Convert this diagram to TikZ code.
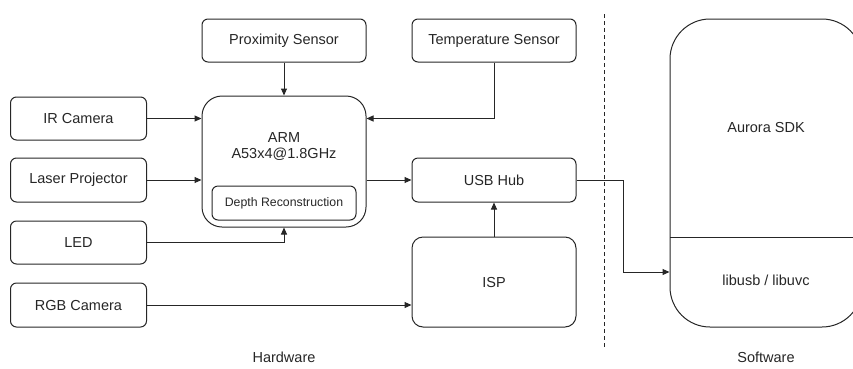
\documentclass[tikz,border=0pt]{standalone}
\usepackage{fontspec}
\setmainfont{Liberation Sans}
\usetikzlibrary{arrows.meta,calc}
\begin{document}
\begin{tikzpicture}[x=1pt,y=-1pt,
  every node/.style={font=\fontsize{14.5}{17}\selectfont, text=black!85},
  box/.style={draw=black!85, line width=1pt, rounded corners=6pt, inner sep=0pt},
  conn/.style={draw=black!85, line width=1pt},
  arr/.style={conn, -{Triangle[length=7pt,width=6pt]}}]
\useasboundingbox (0,0) rectangle (853,368);
% hardware boxes
\node[box, minimum width=164pt, minimum height=43pt] (prox) at (284,40.5) {Proximity Sensor};
\node[box, minimum width=164pt, minimum height=43pt] (temp) at (494,40.5) {Temperature Sensor};
\node[box, minimum width=136pt, minimum height=43pt] (ir) at (78.5,118.5) {IR Camera};
\node[box, minimum width=136pt, minimum height=44pt] (laser) at (78.5,180) {Laser Projector};
\node[box, minimum width=136pt, minimum height=43pt] (led) at (78.5,242.5) {LED};
\node[box, minimum width=136pt, minimum height=44pt] (rgb) at (78.5,305) {RGB Camera};
\node[box, rounded corners=20pt, minimum width=164pt, minimum height=131pt] (arm) at (284,161.5) {};
\node[align=center] (armlabel) at (284,146.5) {ARM\\[-1pt]A53x4@1.8GHz};
\node[box, font=\fontsize{12.3}{14}\selectfont, minimum width=144pt, minimum height=34pt] (depth) at (284,203) {Depth Reconstruction};
\node[box, minimum width=164pt, minimum height=44pt] (usb) at (494,180) {USB Hub};
\node[box, rounded corners=11pt, minimum width=164pt, minimum height=90pt] (isp) at (494,282) {ISP};
% software
\node[box, rounded corners=40pt, minimum width=192pt, minimum height=308pt] (sw) at (766,173) {};
\coordinate (divl) at (670,237);
\coordinate (divr) at (862,237);
\draw[conn] (divl) -- (divr);
\node (sdk) at (766,128) {Aurora SDK};
\node (libs) at (766,280) {libusb / libuvc};
% separator
\coordinate (septop) at (604,14);
\coordinate (sepbot) at (604,347);
\draw[conn, dash pattern=on 4pt off 3pt] (septop) -- (sepbot);
\node (hw) at (284,357) {Hardware};
\node (swl) at (766,357) {Software};
% connectors
\draw[arr] (prox.south) -- (arm.north);
\draw[arr] (ir.east) -- (ir.east -| arm.west);
\draw[arr] (laser.east) -- (laser.east -| arm.west);
\draw[arr] (led.east) -| (arm.south);
\draw[arr] (temp.south) |- (ir.east -| arm.east);
\draw[arr] (usb.west -| arm.east) -- (usb.west);
\draw[arr] (isp.north) -- (usb.south);
\draw[arr] (rgb.east) -- (rgb.east -| isp.west);
\coordinate (bend) at (623,180);
\draw[arr] (usb.east) -- (bend) |- (sw.west |- 0,272);
\end{tikzpicture}
\end{document}
